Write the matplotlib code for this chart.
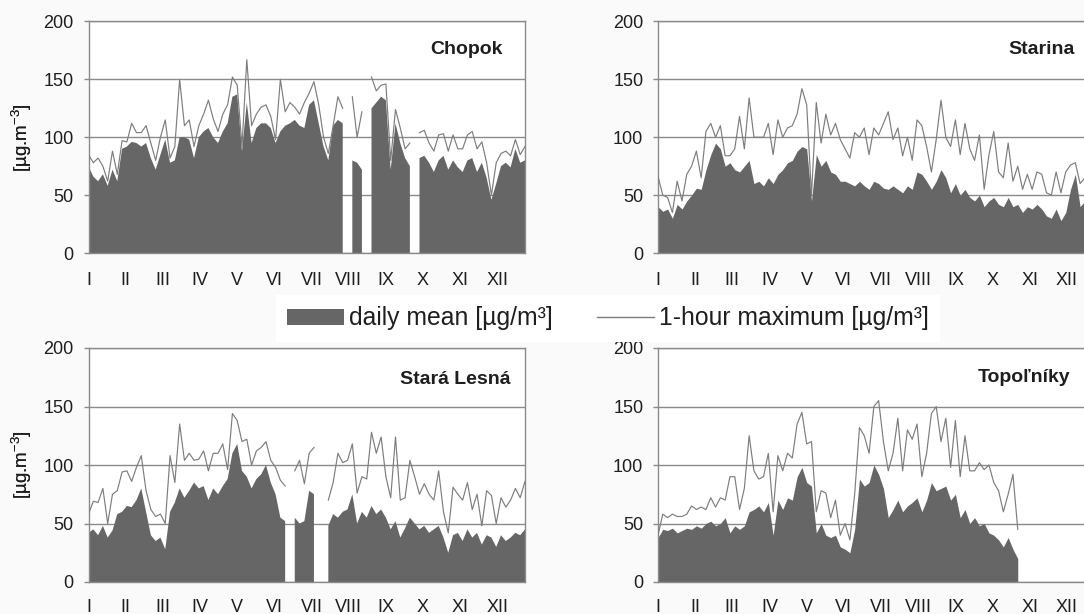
import numpy as np
import matplotlib
matplotlib.use('Agg')
import matplotlib.pyplot as plt
from matplotlib.patches import Patch
from matplotlib.lines import Line2D

nan = np.nan

# ozone concentrations sampled every 4th day of the year
days = np.arange(0, 365, 4)
month_days = [0, 31, 62, 93, 124, 155, 186, 217, 248, 279, 310, 341]
months = ['I', 'II', 'III', 'IV', 'V', 'VI', 'VII', 'VIII', 'IX', 'X', 'XI', 'XII']

chopok_max = [85, 78, 82, 75, 62, 88, 68, 97, 96, 112, 104, 104, 110, 95, 80, 100, 115, 82, 92, 150,
              110, 115, 92, 110, 120, 132, 116, 105, 120, 128, 152, 145, 92, 167, 110, 120, 126, 128, 118, 98,
              150, 122, 130, 126, 120, 130, 138, 148, 128, 100, 86, 110, 135, 125, nan, 135, 100, 122, nan, 152,
              140, 145, 146, 80, 124, 108, 90, 95, nan, 104, 106, 95, 88, 102, 103, 88, 102, 90, 90, 102,
              105, 90, 96, 78, 50, 78, 86, 88, 84, 98, 85, 92]
chopok_mean = [75, 66, 62, 68, 58, 72, 62, 90, 92, 96, 95, 92, 95, 82, 72, 85, 98, 78, 80, 100,
               100, 98, 82, 100, 105, 108, 100, 95, 105, 112, 135, 137, 88, 130, 95, 108, 112, 112, 108, 95,
               105, 110, 112, 115, 110, 108, 128, 132, 112, 92, 80, 110, 115, 112, nan, 80, 78, 72, nan, 125,
               130, 135, 132, 72, 112, 95, 82, 75, nan, 82, 84, 78, 70, 80, 84, 72, 80, 74, 70, 80,
               82, 70, 78, 65, 46, 60, 75, 78, 74, 90, 78, 80]

starina_max = [66, 50, 48, 35, 62, 45, 68, 75, 88, 65, 105, 112, 100, 110, 84, 84, 90, 118, 90, 134,
               100, 100, 100, 112, 85, 115, 100, 108, 110, 120, 142, 128, 50, 130, 95, 120, 102, 112, 98, 90,
               82, 104, 100, 108, 85, 108, 102, 112, 122, 98, 108, 84, 100, 80, 115, 110, 92, 70, 98, 132,
               100, 92, 115, 85, 112, 90, 80, 102, 55, 85, 105, 70, 65, 95, 62, 75, 55, 68, 55, 70,
               68, 52, 50, 70, 52, 70, 76, 78, 60, 65, 70, 75]
starina_mean = [40, 36, 38, 30, 42, 38, 45, 50, 56, 55, 72, 85, 95, 90, 75, 78, 72, 70, 75, 80,
                60, 62, 58, 65, 60, 68, 72, 78, 80, 88, 92, 90, 45, 85, 75, 80, 70, 68, 62, 62,
                60, 58, 62, 58, 55, 62, 60, 56, 55, 58, 55, 52, 58, 55, 70, 68, 62, 55, 62, 72,
                65, 52, 60, 50, 55, 48, 45, 50, 40, 45, 48, 42, 40, 48, 40, 42, 35, 40, 38, 42,
                38, 32, 30, 38, 28, 35, 55, 68, 40, 45, 48, 50]

lesna_max = [58, 69, 68, 80, 50, 75, 78, 94, 95, 86, 98, 108, 78, 62, 56, 58, 50, 108, 85, 135,
             104, 110, 104, 105, 112, 95, 110, 110, 118, 96, 144, 138, 120, 122, 100, 112, 115, 120, 104, 98,
             87, 82, nan, 95, 104, 84, 110, 115, nan, nan, 70, 85, 110, 102, 104, 118, 76, 90, 88, 128,
             110, 124, 90, 72, 124, 70, 72, 104, 90, 75, 84, 75, 70, 95, 60, 42, 81, 75, 70, 85,
             62, 75, 48, 78, 74, 50, 72, 64, 70, 80, 72, 86]
lesna_mean = [42, 45, 40, 48, 38, 44, 58, 60, 65, 64, 70, 80, 60, 40, 35, 38, 28, 60, 68, 80,
              72, 78, 85, 80, 82, 70, 80, 75, 82, 88, 110, 118, 95, 90, 80, 88, 92, 100, 85, 75,
              55, 52, nan, 55, 50, 52, 78, 75, nan, nan, 48, 58, 55, 60, 62, 75, 50, 60, 55, 65,
              58, 62, 55, 45, 52, 38, 46, 55, 50, 45, 48, 42, 45, 48, 38, 25, 40, 42, 35, 45,
              38, 42, 32, 40, 38, 30, 40, 35, 38, 42, 40, 45]

topol_max = [40, 58, 55, 58, 56, 56, 58, 65, 62, 64, 62, 72, 64, 72, 70, 90, 90, 62, 80, 125,
             95, 88, 90, 110, 60, 108, 95, 110, 106, 135, 145, 118, 120, 60, 78, 76, 55, 70, 40, 50,
             36, 75, 132, 125, 110, 150, 155, 120, 95, 110, 140, 95, 130, 122, 135, 90, 110, 144, 150, 120,
             140, 98, 138, 90, 125, 95, 95, 102, 96, 100, 85, 78, 60, 75, 92, 45,
             nan, nan, nan, nan, nan, nan, nan, nan, nan, nan, nan, nan, nan, nan, nan, nan]
topol_mean = [38, 45, 44, 46, 42, 44, 46, 45, 48, 46, 50, 52, 48, 50, 55, 42, 48, 45, 48, 60,
              62, 65, 60, 68, 40, 70, 62, 72, 70, 90, 98, 85, 82, 42, 50, 40, 38, 40, 30, 28,
              25, 45, 88, 82, 85, 100, 92, 80, 55, 62, 70, 60, 65, 68, 72, 60, 70, 85, 78, 80,
              82, 70, 75, 55, 62, 50, 55, 48, 50, 42, 40, 36, 30, 38, 28, 20,
              nan, nan, nan, nan, nan, nan, nan, nan, nan, nan, nan, nan, nan, nan, nan, nan]

MEAN_COLOR = '#666666'
MAX_COLOR = '#7d7d7d'
FRAME_COLOR = '#8a8a8a'
TEXT_COLOR = '#1e1e1e'

plt.rcParams['font.family'] = ['Liberation Sans', 'DejaVu Sans']
plt.rcParams['mathtext.fontset'] = 'custom'
plt.rcParams['mathtext.rm'] = 'Liberation Sans'
plt.rcParams['mathtext.it'] = 'Liberation Sans:italic'
plt.rcParams['mathtext.bf'] = 'Liberation Sans:bold'
plt.rcParams['mathtext.default'] = 'regular'

W, H = 1084, 614
fig = plt.figure(figsize=(W / 100, H / 100), dpi=100, facecolor='#fafafa')


def add_panel(left, top, width, height):
    return fig.add_axes([left / W, 1 - (top + height) / H, width / W, height / H])


# (name, mean, max, axes box in px, title offset from top-right corner in px, month label pad)
panels = [
    ('Chopok', chopok_mean, chopok_max, (88.5, 21.5, 436.5, 231.5), (22, 28.5), 14),
    ('Starina', starina_mean, starina_max, (658, 21.5, 436.5, 231.5), (20, 28.5), 14),
    ('Stará Lesná', lesna_mean, lesna_max, (88.5, 348, 436.5, 234), (15, 32), 12.5),
    ('Topoľníky', topol_mean, topol_max, (658, 348, 436.5, 234), (24, 30), 12.5),
]

for name, mean, mx, box, (dx, dy), xpad in panels:
    ax = add_panel(*box)
    ax.set_facecolor('white')
    ax.fill_between(days, 0, mean, color=MEAN_COLOR, lw=0, zorder=2)
    ax.plot(days, mx, color=MAX_COLOR, lw=0.85, zorder=3)

    ax.set_xlim(0, 364)
    ax.set_ylim(0, 200)
    ax.set_yticks([0, 50, 100, 150, 200])
    ax.set_xticks(month_days)
    ax.set_xticklabels(months)
    ax.yaxis.grid(True, color=FRAME_COLOR, lw=1.0)
    ax.set_axisbelow(True)
    for s in ax.spines.values():
        s.set_color(FRAME_COLOR)
        s.set_linewidth(1.0)
    ax.tick_params(axis='x', length=0, pad=xpad, labelsize=13, labelcolor=TEXT_COLOR)
    ax.tick_params(axis='y', length=3.6, width=1, color=FRAME_COLOR, pad=7,
                   labelsize=13, labelcolor=TEXT_COLOR)

    ax.set_ylabel('[µg.m$^{-3}$]', fontsize=13.5, color=TEXT_COLOR)
    ax.yaxis.set_label_coords(-(box[0] - 34) / box[2], 0.5)

    ax.text(1 - dx / box[2], 1 - dy / box[3], name, transform=ax.transAxes,
            ha='right', va='center', fontsize=14, fontweight='bold', color=TEXT_COLOR)

handles = [Patch(facecolor=MEAN_COLOR, edgecolor='none', label='daily mean [µg/m³]'),
           Line2D([], [], color=MAX_COLOR, lw=1.0, label='1-hour maximum [µg/m³]')]
leg = fig.legend(handles=handles, loc='center', bbox_to_anchor=(0.561, 1 - 318.5 / H), ncol=2,
                 fontsize=17.8, frameon=True, facecolor='white', edgecolor='none', framealpha=1,
                 fancybox=False, handlelength=2.3, handleheight=0.6, handletextpad=0.2,
                 columnspacing=1.8, borderpad=0.45)
for t in leg.get_texts():
    t.set_color(TEXT_COLOR)

fig.savefig('out.png', dpi=100, facecolor=fig.get_facecolor())
